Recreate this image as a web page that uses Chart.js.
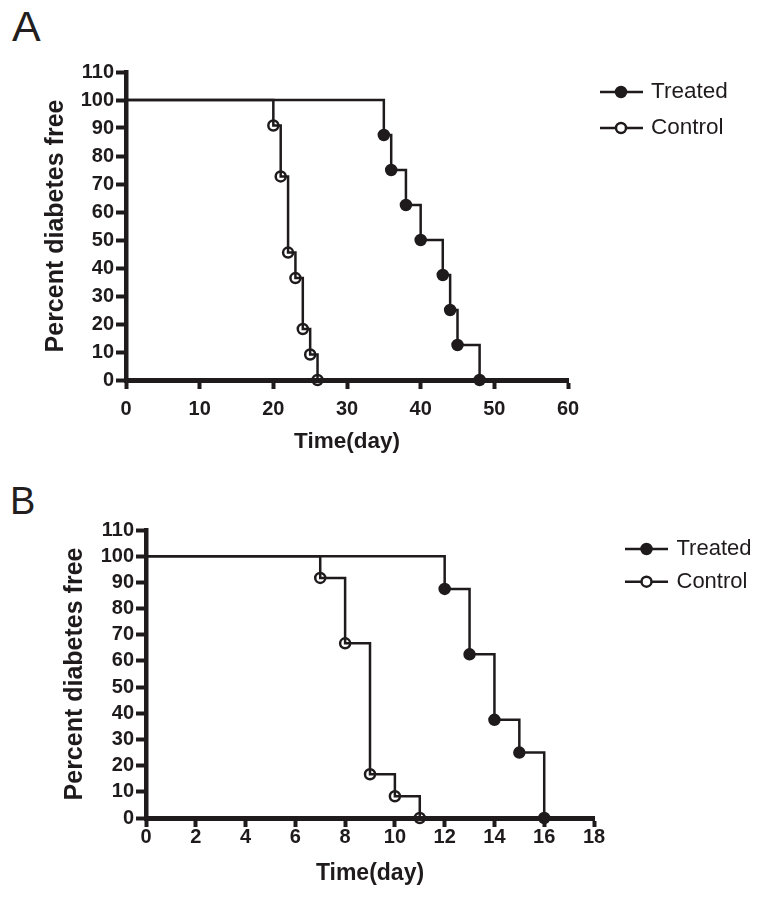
<!DOCTYPE html>
<html>
<head>
<meta charset="utf-8">
<script src="https://cdn.jsdelivr.net/npm/chart.js@4/dist/chart.umd.min.js"></script>
<style>
  html, body { margin: 0; padding: 0; background: #fff; }
  body { width: 765px; height: 898px; position: relative; overflow: hidden; font-family: 'Liberation Sans', Arial, sans-serif; }
  .panel { position: absolute; left: 0; width: 765px; }
  .letter { position: absolute; line-height: 1; color: #231f20; font-family: 'Liberation Sans', Arial, sans-serif; }
</style>
</head>
<body>
<div class="letter" style="left:12px; top:5px; font-size:43px;">A</div>
<div class="letter" style="left:10px; top:482px; font-size:38px;">B</div>
<div class="panel" style="top:0; height:460px;"><canvas id="chartA" width="765" height="460"></canvas></div>
<div class="panel" style="top:460px; height:438px;"><canvas id="chartB" width="765" height="438"></canvas></div>
<script>
// ---- Data ----
const seriesNames = ['Treated', 'Control'];
const yTitle = 'Percent diabetes free';
const xTitle = 'Time(day)';

// Panel A
const daysATreated = [0, 35, 36, 38, 40, 43, 44, 45, 48];
const pctATreated  = [100, 87.5, 75, 62.5, 50, 37.5, 25, 12.5, 0];
const daysAControl = [0, 20, 21, 22, 23, 24, 25, 26];
const pctAControl  = [100, 90.9, 72.7, 45.5, 36.4, 18.2, 9.1, 0];
const xTicksA = [0, 10, 20, 30, 40, 50, 60];

// Panel B
const daysBTreated = [0, 12, 13, 14, 15, 16];
const pctBTreated  = [100, 87.5, 62.5, 37.5, 25, 0];
const daysBControl = [0, 7, 8, 9, 10, 11];
const pctBControl  = [100, 91.7, 66.7, 16.7, 8.3, 0];
const xTicksB = [0, 2, 4, 6, 8, 10, 12, 14, 16, 18];

const yTicks = [0, 10, 20, 30, 40, 50, 60, 70, 80, 90, 100, 110];

// ---- Styling ----
const INK = '#1f1b1c';
const FONT = "'Liberation Sans', Arial, sans-serif";

function pts(xs, ys) { return xs.map((x, i) => ({ x: x, y: ys[i] })); }

function legendPlugin(cfg) {
  return {
    id: 'kmLegend',
    afterDraw(chart) {
      const ctx = chart.ctx;
      ctx.save();
      cfg.rows.forEach((row) => {
        const y = row.y;
        ctx.strokeStyle = INK;
        ctx.lineWidth = 2.5;
        ctx.beginPath();
        ctx.moveTo(cfg.x1, y);
        ctx.lineTo(cfg.x2, y);
        ctx.stroke();
        ctx.beginPath();
        ctx.arc(cfg.mx, y, 5, 0, Math.PI * 2);
        ctx.fillStyle = row.filled ? INK : '#fff';
        ctx.fill();
        ctx.lineWidth = 2.5;
        ctx.stroke();
        ctx.fillStyle = INK;
        ctx.font = cfg.fontSize + 'px ' + FONT;
        ctx.textBaseline = 'middle';
        ctx.textAlign = 'left';
        ctx.fillText(row.label, cfg.tx, y);
      });
      ctx.restore();
    }
  };
}

function makeChart(id, o) {
  const radii = (n) => Array.from({ length: n }, (_, i) => (i === 0 ? 0 : 5));
  const dsCommon = {
    showLine: true,
    stepped: 'before',
    borderColor: INK,
    borderWidth: 2.5,
    pointBorderColor: INK,
    pointBorderWidth: 2.5,
    pointHoverRadius: 0,
    clip: false,
    tension: 0
  };
  return new Chart(document.getElementById(id), {
    type: 'scatter',
    data: {
      datasets: [
        Object.assign({}, dsCommon, {
          label: seriesNames[0],
          data: pts(o.tDays, o.tPct),
          pointRadius: radii(o.tDays.length),
          pointBackgroundColor: INK
        }),
        Object.assign({}, dsCommon, {
          label: seriesNames[1],
          data: pts(o.cDays, o.cPct),
          pointRadius: radii(o.cDays.length),
          pointBackgroundColor: 'rgba(255,255,255,0)'
        })
      ]
    },
    options: {
      responsive: false,
      animation: false,
      events: [],
      layout: { padding: { left: 0, top: o.top, right: o.right, bottom: 0 } },
      plugins: { legend: { display: false }, tooltip: { enabled: false } },
      scales: {
        x: {
          type: 'linear',
          min: o.xMin, max: o.xMax,
          afterFit: (s) => { s.height = o.xHeight; },
          afterBuildTicks: (s) => { s.ticks = o.xTicks.map(v => ({ value: v })); },
          ticks: {
            color: INK,
            font: { family: FONT, size: 20, weight: 'bold' },
            padding: o.xTickPad,
            maxRotation: 0,
            autoSkip: false
          },
          grid: { display: true, drawOnChartArea: false, drawTicks: true, tickLength: 9, tickWidth: 4, tickColor: INK, color: INK },
          border: { display: true, width: 5, color: INK },
          title: {
            display: true, text: xTitle, color: INK,
            font: { family: FONT, size: o.xTitleSize, weight: 'bold', lineHeight: 1 },
            padding: { top: 0, bottom: o.xTitlePad }
          }
        },
        y: {
          type: 'linear',
          min: 0, max: 110,
          afterFit: (s) => { s.width = o.yWidth; },
          afterBuildTicks: (s) => { s.ticks = yTicks.map(v => ({ value: v })); },
          ticks: {
            color: INK,
            font: { family: FONT, size: 20, weight: 'bold' },
            padding: 2,
            autoSkip: false
          },
          grid: { display: true, drawOnChartArea: false, drawTicks: true, tickLength: 10, tickWidth: 4, tickColor: INK, color: INK },
          border: { display: true, width: 4.5, color: INK },
          title: {
            display: true, text: yTitle, color: INK,
            font: { family: FONT, size: 25, weight: 'bold', lineHeight: 1 },
            padding: { top: o.yTitlePad, bottom: 0 }
          }
        }
      }
    },
    plugins: [legendPlugin(o.legend)]
  });
}

makeChart('chartA', {
  tDays: daysATreated, tPct: pctATreated, cDays: daysAControl, cPct: pctAControl,
  xMin: 0, xMax: 60, xTicks: xTicksA,
  top: 72, right: 197, yWidth: 126, xHeight: 80, xTickPad: 8,
  xTitleSize: 22.5, xTitlePad: 6.5, yTitlePad: 44,
  legend: { x1: 600, x2: 643, mx: 621, tx: 651, fontSize: 22.5,
            rows: [{ y: 92, label: seriesNames[0], filled: true }, { y: 128, label: seriesNames[1], filled: false }] }
});

makeChart('chartB', {
  tDays: daysBTreated, tPct: pctBTreated, cDays: daysBControl, cPct: pctBControl,
  xMin: 0, xMax: 18, xTicks: xTicksB,
  top: 70, right: 171, yWidth: 146, xHeight: 80, xTickPad: -2,
  xTitleSize: 23, xTitlePad: 12.5, yTitlePad: 63,
  legend: { x1: 625, x2: 668, mx: 646.5, tx: 676.5, fontSize: 22,
            rows: [{ y: 89, label: seriesNames[0], filled: true }, { y: 121.7, label: seriesNames[1], filled: false }] }
});
</script>
</body>
</html>
